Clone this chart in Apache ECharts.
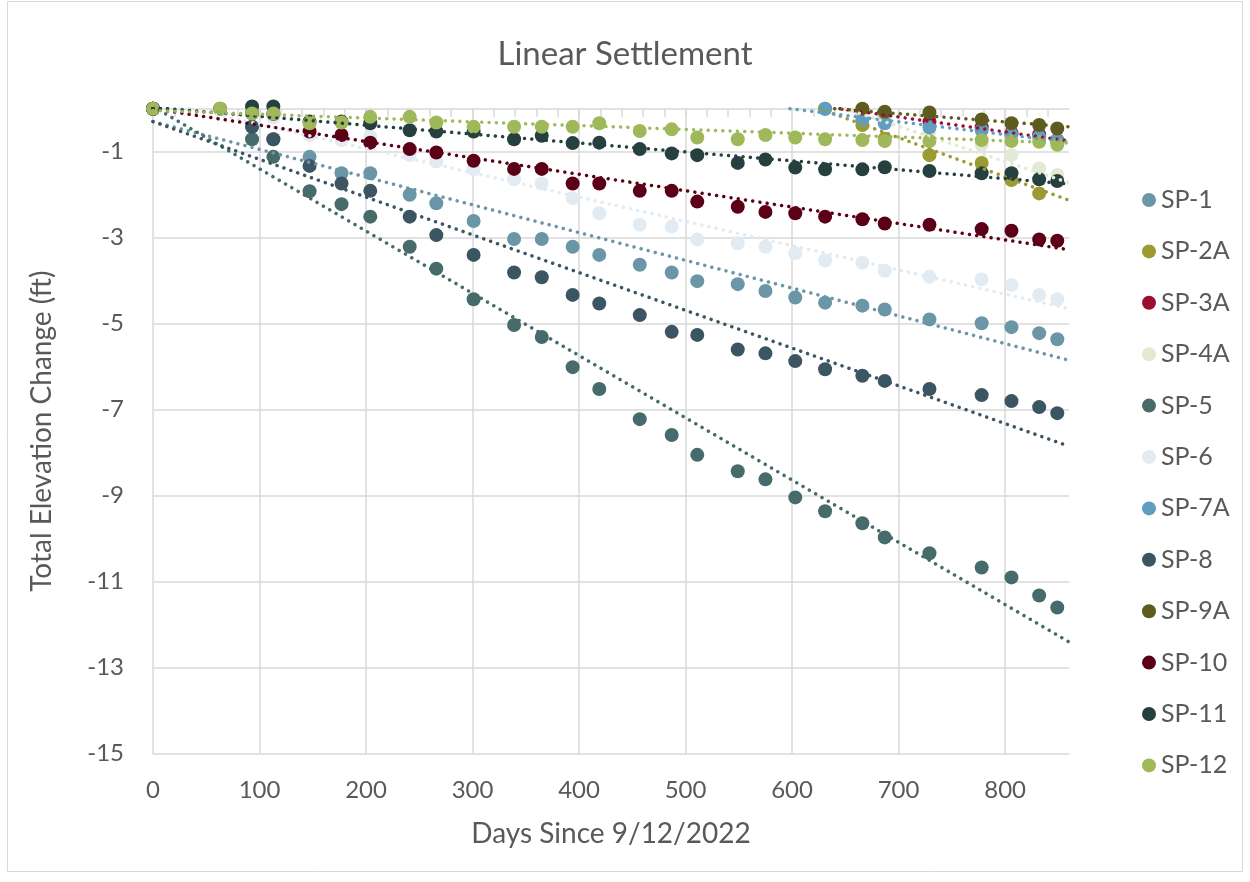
<!DOCTYPE html>
<html>
<head>
<meta charset="utf-8">
<script src="https://cdn.jsdelivr.net/npm/echarts@6/dist/echarts.min.js"></script>
<style>html,body{margin:0;padding:0;background:#fff}#c{width:1250px;height:882px}</style>
</head>
<body>
<div id="c"></div>
<script>
const days = [0,63,93,113,147,177,204,241,266,301,339,365,394,419,457,487,511,549,575,603,631,666,687,729,778,806,832,849];
const names = ['SP-1','SP-2A','SP-3A','SP-4A','SP-5','SP-6','SP-7A','SP-8','SP-9A','SP-10','SP-11','SP-12'];
const colors = ['#6A96A8','#9C9A32','#9B0D31','#E4E9D4','#466B6A','#E2EBF2','#5F9EC0','#3C5562','#5E5B1E','#5C0018','#263F3F','#9FB85A'];
const N = null;
const sp1  = [0,N,-0.42,-0.71,-1.12,-1.50,-1.50,-2.00,-2.20,-2.61,-3.03,-3.03,-3.21,-3.40,-3.63,-3.81,-4.01,-4.08,-4.24,-4.39,-4.51,-4.58,-4.67,-4.90,-4.99,-5.08,-5.22,-5.36];
const sp2a = [N,N,N,N,N,N,N,N,N,N,N,N,N,N,N,N,N,N,N,N,0,-0.38,-0.70,-1.08,-1.26,-1.66,-1.97,N];
const sp3a = [N,N,N,N,N,N,N,N,N,N,N,N,N,N,N,N,N,N,N,N,N,-0.02,-0.11,-0.30,-0.43,-0.57,-0.60,-0.73];
const sp4a = [N,N,N,N,N,N,N,N,N,N,N,N,N,N,N,N,N,N,N,N,N,-0.02,-0.10,-0.53,-0.84,-1.08,-1.39,-1.54];
const sp5  = [0,N,-0.71,-1.12,-1.92,-2.22,-2.51,-3.21,-3.72,-4.43,-5.03,-5.31,-6.01,-6.52,-7.22,-7.59,-8.05,-8.43,-8.62,-9.04,-9.36,-9.64,-9.97,-10.34,-10.67,-10.90,-11.32,-11.60];
const sp6  = [0,N,-0.12,-0.20,-0.61,-0.73,-0.65,-1.08,-1.23,-1.41,-1.64,-1.74,-2.08,-2.43,-2.70,-2.74,-3.04,-3.13,-3.21,-3.36,-3.53,-3.58,-3.77,-3.91,-3.97,-4.10,-4.33,-4.43];
const sp7a = [N,N,N,N,N,N,N,N,N,N,N,N,N,N,N,N,N,N,N,N,0,-0.26,-0.34,-0.43,-0.50,-0.60,-0.65,-0.73];
const sp8  = [0,N,-0.42,-0.71,-1.33,-1.74,-1.91,-2.51,-2.94,-3.40,-3.81,-3.92,-4.33,-4.53,-4.80,-5.19,-5.26,-5.60,-5.69,-5.87,-6.06,-6.21,-6.33,-6.52,-6.66,-6.80,-6.94,-7.08];
const sp9a = [N,N,N,N,N,N,N,N,N,N,N,N,N,N,N,N,N,N,N,N,N,0,-0.07,-0.09,-0.25,-0.34,-0.38,-0.46];
const sp10 = [0,N,-0.10,-0.12,-0.53,-0.61,-0.79,-0.94,-1.02,-1.21,-1.40,-1.40,-1.74,-1.74,-1.91,-1.91,-2.16,-2.28,-2.40,-2.43,-2.51,-2.57,-2.67,-2.70,-2.80,-2.84,-3.04,-3.07];
const sp11 = [0,0,0.05,0.05,-0.30,-0.30,-0.34,-0.50,-0.53,-0.53,-0.71,-0.63,-0.80,-0.79,-0.94,-1.04,-1.08,-1.26,-1.18,-1.37,-1.41,-1.41,-1.36,-1.45,-1.50,-1.50,-1.64,-1.68];
const sp12 = [0,0,-0.11,-0.11,-0.34,-0.32,-0.19,-0.19,-0.32,-0.42,-0.42,-0.42,-0.42,-0.34,-0.52,-0.48,-0.67,-0.71,-0.61,-0.67,-0.71,-0.73,-0.75,-0.75,-0.73,-0.75,-0.77,-0.84];
const values = [sp1,sp2a,sp3a,sp4a,sp5,sp6,sp7a,sp8,sp9a,sp10,sp11,sp12];
// linear trendlines: start day, value at start, value at end day
const trendStartDay = [0,626,645,650,0,0,598,0,640,0,0,0];
const trendStartVal = [-0.30,0,0,0,0.05,0.20,0,-0.30,0,0,0.03,-0.04];
const trendEndDay = 860;
const trendEndVal = [-5.85,-2.13,-0.75,-1.72,-12.40,-4.65,-0.78,-7.85,-0.42,-3.28,-1.75,-0.80];
const xTicks = [0,100,200,300,400,500,600,700,800];

const FONT = 'Lato';
const TXT = '#595959';
const GRID = '#d9d9d9';

const series = [];
names.forEach((n, i) => {
  const pts = [];
  days.forEach((d, j) => { if (values[i][j] !== null) pts.push([d, values[i][j]]); });
  series.push({
    name: n, type: 'scatter', symbol: 'circle', symbolSize: 14, clip: false,
    itemStyle: { color: colors[i], opacity: 1 }, data: pts, z: 2
  });
});
names.forEach((n, i) => {
  series.push({
    name: n + ' trend', type: 'line', symbol: 'none', clip: true, silent: true, z: 3,
    lineStyle: { color: colors[i], width: 3.5, type: [0.01, 7.3], cap: 'round' },
    data: [[trendStartDay[i], trendStartVal[i]], [trendEndDay, trendEndVal[i]]]
  });
});

const chart = echarts.init(document.getElementById('c'), null, { renderer: 'canvas' });
chart.setOption({
  animation: false,
  backgroundColor: '#fff',
  textStyle: { fontFamily: FONT },
  title: {
    text: 'Linear Settlement', left: 'center', top: 33,
    textStyle: { fontFamily: FONT, fontSize: 33, fontWeight: 'normal', color: TXT }
  },
  graphic: [{
    type: 'rect', shape: { x: 7.5, y: 1.5, width: 1235, height: 870 },
    style: { fill: 'none', stroke: GRID, lineWidth: 1 }, silent: true
  }],
  legend: {
    orient: 'vertical', left: 1137, top: 182, icon: 'circle',
    itemWidth: 14, itemHeight: 14, itemGap: 25.4,
    data: names,
    textStyle: { fontFamily: FONT, fontSize: 25, color: TXT, lineHeight: 26 }
  },
  grid: { left: 153, top: 108.7, right: 181, bottom: 128.3, containLabel: false },
  xAxis: [{
    type: 'value', min: 0, max: 860, interval: 20,
    name: 'Days Since 9/12/2022', nameLocation: 'middle', nameGap: 66,
    nameTextStyle: { fontFamily: FONT, fontSize: 28, color: TXT },
    axisLine: { show: true, lineStyle: { color: GRID, width: 1.5 } },
    axisTick: { show: true, length: 8, lineStyle: { color: GRID, width: 1.5 } },
    axisLabel: {
      fontFamily: FONT, fontSize: 24, color: TXT, margin: 25,
      showMaxLabel: false,
      formatter: v => (xTicks.indexOf(v) >= 0 ? String(v) : '')
    },
    splitLine: { show: false }
  }, {
    type: 'value', min: 0, max: 860, interval: 100, position: 'bottom',
    axisLine: { show: false }, axisTick: { show: false }, axisLabel: { show: false },
    splitLine: { show: true, showMinLine: false, showMaxLine: false, lineStyle: { color: GRID, width: 1.5 } }
  }],
  yAxis: {
    type: 'value', min: -15, max: 0, interval: 2,
    name: 'Total Elevation Change (ft)', nameLocation: 'middle', nameGap: 97,
    nameTextStyle: { fontFamily: FONT, fontSize: 28, color: TXT },
    axisLine: { show: true, onZero: false, lineStyle: { color: GRID, width: 1.5 } },
    axisTick: { show: false },
    axisLabel: { fontFamily: FONT, fontSize: 24, color: TXT, margin: 29, showMaxLabel: false },
    splitLine: { show: true, showMaxLine: false, lineStyle: { color: GRID, width: 1.5 } }
  },
  series: series
});
</script>
</body>
</html>
